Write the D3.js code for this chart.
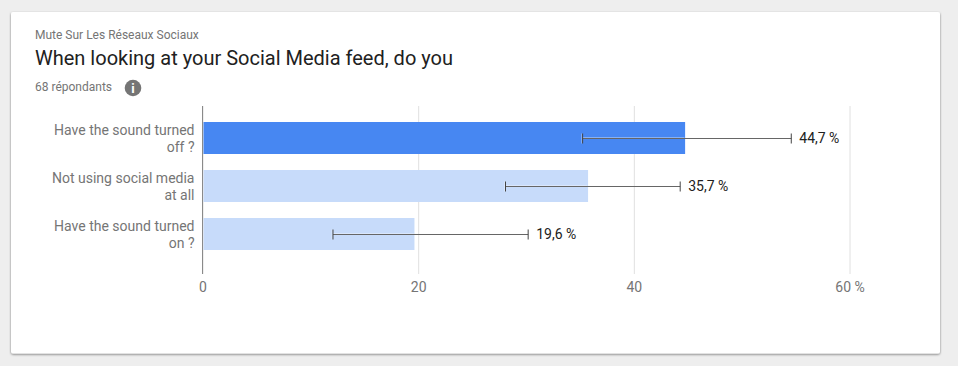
<!DOCTYPE html>
<html>
<head>
<meta charset="utf-8">
<script src="https://cdnjs.cloudflare.com/ajax/libs/d3/7.8.5/d3.min.js"></script>
<style>
  html, body { margin: 0; padding: 0; background: #eeeeee; }
  svg { display: block; font-family: Roboto, sans-serif; }
</style>
</head>
<body>
<div id="chart"></div>
<script>
var categories = ['Have the sound turned off ?', 'Not using social media at all', 'Have the sound turned on ?']
var values = [44.7, 35.7, 19.6]
var value_labels = ['44,7 %', '35,7 %', '19,6 %']
var err_low = [35.25, 28.1, 12.1]
var err_high = [54.6, 44.3, 30.2]
var x_ticks = [0, 20, 40, 60]
var highlighted = 'Have the sound turned off ?'

var svg = d3.select('#chart').append('svg')
  .attr('width', 958)
  .attr('height', 366)

// card with its shadow
var defs = svg.append('defs')
var shadow = defs.append('filter').attr('id', 'shadow')
  .attr('x', '-2%').attr('y', '-3%').attr('width', '104%').attr('height', '107%')
shadow.append('feDropShadow')
  .attr('dx', 0).attr('dy', 1).attr('stdDeviation', 1.2)
  .attr('flood-color', '#000').attr('flood-opacity', 0.5)

svg.append('rect')
  .attr('x', 11).attr('y', 12)
  .attr('width', 929).attr('height', 341.5)
  .attr('rx', 2)
  .attr('fill', '#fff')
  .attr('filter', 'url(#shadow)')

// header
svg.append('text').text('Mute Sur Les Réseaux Sociaux')
  .attr('x', 35).attr('y', 39)
  .attr('font-size', 12).attr('fill', '#757575')
svg.append('text').text('When looking at your Social Media feed, do you')
  .attr('x', 35).attr('y', 65)
  .attr('font-size', 20).attr('fill', '#212121')
svg.append('text').text('68 répondants')
  .attr('x', 35).attr('y', 91)
  .attr('font-size', 12).attr('fill', '#757575')

var info = svg.append('g').attr('transform', 'translate(133,88)')
info.append('circle').attr('r', 8.3).attr('fill', '#757575')
info.append('text').text('i')
  .attr('text-anchor', 'middle').attr('y', 4.5)
  .attr('font-size', 13).attr('font-weight', 700).attr('fill', '#fff')

var x = d3.scaleLinear().domain([0, 60]).range([202.5, 849.5])
var y = d3.scaleBand().domain(categories).range([114, 258])
  .paddingInner(1 / 3).paddingOuter(1 / 6)

var axis_top = 106
var axis_bottom = 274

// gridlines and x labels
var x_axis = d3.axisBottom(x)
  .tickValues(x_ticks)
  .tickSize(axis_bottom - axis_top)
  .tickPadding(8)
  .tickFormat(function (d) { return d === 60 ? d + ' %' : d })

var gx = svg.append('g')
  .attr('transform', 'translate(0,' + axis_top + ')')
  .call(x_axis)
gx.select('.domain').remove()
gx.selectAll('line').attr('stroke', '#e0e0e0')
gx.selectAll('text')
  .attr('font-family', 'Roboto, sans-serif')
  .attr('font-size', 14)
  .attr('fill', '#757575')

// bars
svg.selectAll('rect.bar').data(categories).enter().append('rect')
  .attr('class', 'bar')
  .attr('x', x(0) + 1)
  .attr('y', function (d) { return y(d) })
  .attr('width', function (d, i) { return x(values[i]) - x(0) - 0.4 })
  .attr('height', y.bandwidth())
  .attr('fill', function (d) { return d === highlighted ? '#4787f2' : '#c7dbfa' })

// y axis line
svg.append('line')
  .attr('x1', x(0)).attr('x2', x(0))
  .attr('y1', axis_top).attr('y2', axis_bottom)
  .attr('stroke', '#8a8a8a')

// category labels, wrapped on two lines
var wrap_width = 145
categories.forEach(function (c) {
  var mid = y(c) + y.bandwidth() / 2
  var label = svg.append('text')
    .attr('text-anchor', 'end')
    .attr('font-size', 14)
    .attr('fill', '#757575')
  var lines = []
  var current = []
  var probe = label.append('tspan')
  c.split(' ').forEach(function (w) {
    probe.text(current.concat(w).join(' '))
    if (probe.node().getComputedTextLength() > wrap_width && current.length) {
      lines.push(current.join(' '))
      current = [w]
    } else {
      current.push(w)
    }
  })
  lines.push(current.join(' '))
  probe.remove()
  lines.forEach(function (l, i) {
    label.append('tspan').text(l)
      .attr('x', 194.5)
      .attr('y', mid - 3 + i * 17.3)
  })
})

// error bars
categories.forEach(function (c, i) {
  var cy = Math.round(y(c) + y.bandwidth() / 2) + 0.5
  var g = svg.append('g')
  // pale halo where the whisker sits over the bar
  g.append('line')
    .attr('x1', x(err_low[i])).attr('x2', x(Math.min(err_high[i], values[i])))
    .attr('y1', cy - 1).attr('y2', cy - 1)
    .attr('stroke', '#fff').attr('stroke-opacity', 0.35)
  g.append('line')
    .attr('x1', x(err_low[i]) - 1).attr('x2', x(err_low[i]) - 1)
    .attr('y1', cy - 5).attr('y2', cy + 5)
    .attr('stroke', '#fff').attr('stroke-opacity', 0.35)
  g.append('line')
    .attr('x1', x(err_low[i])).attr('x2', x(err_high[i]))
    .attr('y1', cy).attr('y2', cy)
    .attr('stroke', '#666')
  g.selectAll('line.cap').data([err_low[i], err_high[i]]).enter().append('line')
    .attr('class', 'cap')
    .attr('x1', function (d) { return x(d) }).attr('x2', function (d) { return x(d) })
    .attr('y1', cy - 5).attr('y2', cy + 5)
    .attr('stroke', '#444')
  svg.append('text').text(value_labels[i])
    .attr('x', x(err_high[i]) + 8)
    .attr('y', cy + 4.5)
    .attr('font-size', 14)
    .attr('fill', '#212121')
})
</script>
</body>
</html>
